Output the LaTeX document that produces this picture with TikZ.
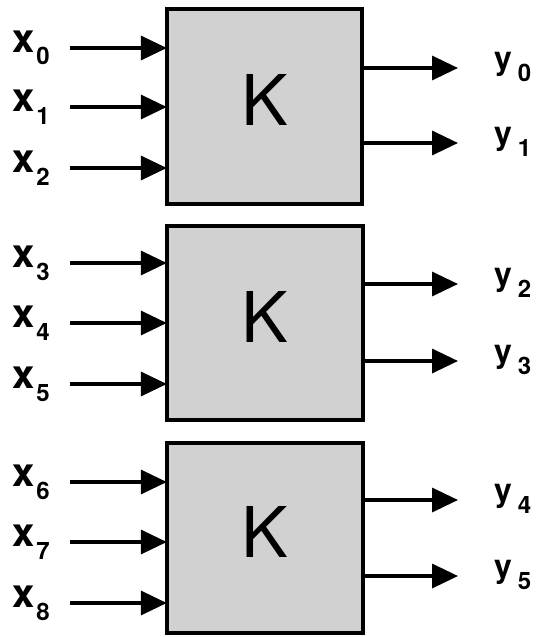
\documentclass[tikz,border=0pt]{standalone}
\usepackage{fontspec}
\setmainfont{TeX Gyre Heros}
\usetikzlibrary{arrows.meta}
\newcommand{\xlab}[1]{{\fontsize{40}{40}\selectfont\bfseries x}\hspace{2pt}\raisebox{-13pt}{\fontsize{24}{24}\selectfont\bfseries #1}}
\newcommand{\ylab}[1]{{\fontsize{32}{32}\selectfont\bfseries y}\hspace{6pt}\raisebox{-12pt}{\fontsize{24}{24}\selectfont\bfseries #1}}
\tikzset{
  kbox/.style={draw=black, line width=4pt, fill=black!18, inner sep=0pt},
  arr/.style={line width=3.5pt, -{Triangle[length=26pt,width=24pt]}},
  klab/.style={font=\fontsize{70}{70}\selectfont, inner sep=0pt},
  lab/.style={anchor=base west, inner sep=0pt}
}
\begin{document}
\begin{tikzpicture}[x=1pt, y=-1pt]
\useasboundingbox (0,0) rectangle (536,637);
% boxes
\path[kbox] (167,9) rectangle (362,204);
\node[minimum width=195pt, minimum height=195pt, inner sep=0pt] (k1) at (264.5,106.5) {};
\path[kbox] (167,226) rectangle (363,420);
\node[minimum width=196pt, minimum height=194pt, inner sep=0pt] (k2) at (265,323) {};
\path[kbox] (167,443) rectangle (363,633);
\node[minimum width=196pt, minimum height=190pt, inner sep=0pt] (k3) at (265,538) {};
\node[klab] (K1) at (265,100) {K};
\node[klab] (K2) at (265,317) {K};
\node[klab] (K3) at (265,532) {K};
% inputs
\foreach \i/\yy/\b in {0/48/1,1/107/1,2/168/1,3/263/2,4/323/2,5/384/2,6/482/3,7/542/3,8/603/3}{
  \coordinate (in\i) at (70,\yy);
  \node[lab] (xl\i) at (12,\yy+4) {\xlab{\i}};
  \draw[arr] (in\i) -- (in\i -| k\b.west);
}
% outputs
\foreach \j/\yy/\b in {0/68/1,1/143/1,2/284/2,3/361/2,4/500/3,5/576/3}{
  \coordinate (out\j) at (458,\yy);
  \node[lab] (yl\j) at (494,\yy+1) {\ylab{\j}};
  \draw[arr] (out\j -| k\b.east) -- (out\j);
}
\end{tikzpicture}
\end{document}
